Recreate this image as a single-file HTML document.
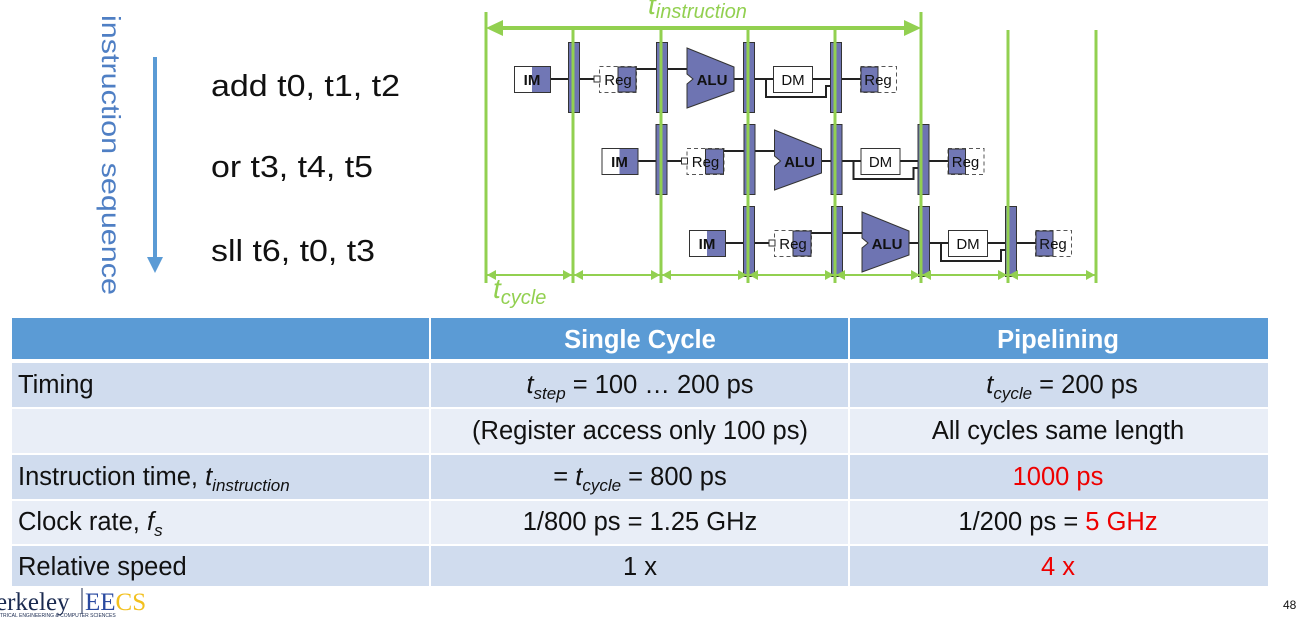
<!DOCTYPE html>
<html><head><meta charset="utf-8"><style>
body{margin:0;width:1298px;height:618px;background:#fff;overflow:hidden;font-family:"Liberation Sans",sans-serif;}
svg{position:absolute;left:0;top:0}
</style></head><body>
<svg width="1298" height="618" viewBox="0 0 1298 618" font-family="Liberation Sans, sans-serif">
<defs>
<g id="row">
  <line x1="550" y1="79" x2="600" y2="79" stroke="#222" stroke-width="2"/>
  <line x1="636" y1="69" x2="690" y2="69" stroke="#222" stroke-width="2"/>
  <line x1="733" y1="79" x2="773" y2="79" stroke="#222" stroke-width="2"/>
  <line x1="812" y1="79" x2="862" y2="79" stroke="#222" stroke-width="2"/>
  <polyline points="766,79 766,97 826,97 826,86 836,86" fill="none" stroke="#222" stroke-width="2"/>
  <rect x="514.5" y="66.5" width="36" height="26" fill="#fff" stroke="#333"/>
  <rect x="532" y="67" width="18" height="25" fill="#7177b5"/>
  <text x="532" y="85" font-size="15" font-weight="bold" text-anchor="middle" fill="#111">IM</text>
  <rect x="599.5" y="66.5" width="37" height="26" fill="#fff" stroke="#555" stroke-dasharray="4,3"/>
  <rect x="618" y="67" width="18" height="25" fill="#7177b5" stroke="#333"/>
  <rect x="594" y="76" width="6" height="6" fill="#fff" stroke="#333"/>
  <text x="618" y="85" font-size="15" text-anchor="middle" fill="#111">Reg</text>
  <polygon points="687,48 734,67 734,91 687,108 687,84 693,79 687,74" fill="#6e74b2" stroke="#333"/>
  <text x="712" y="85" font-size="15" font-weight="bold" text-anchor="middle" fill="#111">ALU</text>
  <rect x="773.5" y="66.5" width="39" height="26" fill="#fff" stroke="#333"/>
  <text x="793" y="85" font-size="15" text-anchor="middle" fill="#111">DM</text>
  <rect x="860.5" y="66.5" width="36" height="26" fill="#fff" stroke="#555" stroke-dasharray="4,3"/>
  <rect x="861" y="67" width="17" height="25" fill="#7177b5" stroke="#333"/>
  <text x="878" y="85" font-size="15" text-anchor="middle" fill="#111">Reg</text>
  <rect x="568.5" y="42.5" width="11" height="70" fill="#6e74b2" stroke="#333"/>
  <rect x="656.5" y="42.5" width="11" height="70" fill="#6e74b2" stroke="#333"/>
  <rect x="743.5" y="42.5" width="11" height="70" fill="#6e74b2" stroke="#333"/>
  <rect x="830.5" y="42.5" width="11" height="70" fill="#6e74b2" stroke="#333"/>
</g>
</defs>
<use href="#row"/>
<use href="#row" transform="translate(87.5,82)"/>
<use href="#row" transform="translate(175,164)"/>
<g stroke="#92d050" stroke-width="3">
<line x1="486" y1="12" x2="486" y2="283"/>
<line x1="573" y1="30" x2="573" y2="283"/>
<line x1="661" y1="30" x2="661" y2="283"/>
<line x1="748" y1="30" x2="748" y2="283"/>
<line x1="835" y1="30" x2="835" y2="283"/>
<line x1="921" y1="12" x2="921" y2="283"/>
<line x1="1008" y1="30" x2="1008" y2="283"/>
<line x1="1096" y1="30" x2="1096" y2="283"/>
<line x1="496" y1="28" x2="911" y2="28" stroke-width="4"/>
</g>
<polygon points="486,28 503,20 503,36" fill="#92d050"/>
<polygon points="921,28 904,20 904,36" fill="#92d050"/>
<line x1="486" y1="275" x2="1096" y2="275" stroke="#92d050" stroke-width="2"/>
<g fill="#92d050">
<polygon points="487,275 496,270 496,280"/><polygon points="572,275 563,270 563,280"/>
<polygon points="574,275 583,270 583,280"/><polygon points="660,275 651,270 651,280"/>
<polygon points="662,275 671,270 671,280"/><polygon points="747,275 738,270 738,280"/>
<polygon points="749,275 758,270 758,280"/><polygon points="834,275 825,270 825,280"/>
<polygon points="836,275 845,270 845,280"/><polygon points="920,275 911,270 911,280"/>
<polygon points="922,275 931,270 931,280"/><polygon points="1007,275 998,270 998,280"/>
<polygon points="1009,275 1018,270 1018,280"/><polygon points="1095,275 1086,270 1086,280"/>
</g>
<text x="648" y="14" font-size="28" font-style="italic" fill="#92d050">t<tspan font-size="20" dy="4">instruction</tspan></text>
<text x="493" y="298" font-size="28" font-style="italic" fill="#92d050">t<tspan font-size="20" dy="6">cycle</tspan></text>
<line x1="155" y1="57" x2="155" y2="260" stroke="#5b9bd5" stroke-width="4"/>
<polygon points="147,257 163,257 155,273" fill="#5b9bd5"/>
<text transform="translate(102,15) rotate(90)" font-size="26" fill="#4f7fc4" textLength="280" lengthAdjust="spacingAndGlyphs">instruction sequence</text>
<text x="211" y="96" font-size="31" fill="#111" textLength="189" lengthAdjust="spacingAndGlyphs">add t0, t1, t2</text>
<text x="211" y="177" font-size="31" fill="#111" textLength="162" lengthAdjust="spacingAndGlyphs">or t3, t4, t5</text>
<text x="211" y="261" font-size="31" fill="#111" textLength="164" lengthAdjust="spacingAndGlyphs">sll t6, t0, t3</text>
<rect x="12" y="318" width="1256" height="41" fill="#5b9bd5"/>
<rect x="12" y="363" width="1256" height="44" fill="#d0dcee"/>
<rect x="12" y="409" width="1256" height="44" fill="#e9eef7"/>
<rect x="12" y="455" width="1256" height="44" fill="#d0dcee"/>
<rect x="12" y="501" width="1256" height="43" fill="#e9eef7"/>
<rect x="12" y="546" width="1256" height="40" fill="#d0dcee"/>
<rect x="429" y="318" width="2" height="268" fill="#fff"/>
<rect x="848" y="318" width="2" height="268" fill="#fff"/>
<g font-size="25.5" fill="#111">
<text x="640" y="348" font-weight="bold" fill="#fff" text-anchor="middle">Single Cycle</text>
<text x="1058" y="348" font-weight="bold" fill="#fff" text-anchor="middle">Pipelining</text>
<text x="18" y="393">Timing</text>
<text x="640" y="393" text-anchor="middle"><tspan font-style="italic">t</tspan><tspan font-size="17" font-style="italic" dy="6">step</tspan><tspan dy="-6"> = 100 … 200 ps</tspan></text>
<text x="1062" y="393" text-anchor="middle"><tspan font-style="italic">t</tspan><tspan font-size="17" font-style="italic" dy="6">cycle</tspan><tspan dy="-6"> = 200 ps</tspan></text>
<text x="640" y="439" text-anchor="middle">(Register access only 100 ps)</text>
<text x="1058" y="439" text-anchor="middle">All cycles same length</text>
<text x="18" y="485">Instruction time, <tspan font-style="italic">t</tspan><tspan font-size="17" font-style="italic" dy="6">instruction</tspan></text>
<text x="640" y="485" text-anchor="middle">= <tspan font-style="italic">t</tspan><tspan font-size="17" font-style="italic" dy="6">cycle</tspan><tspan dy="-6"> = 800 ps</tspan></text>
<text x="1058" y="485" text-anchor="middle" fill="#e00">1000 ps</text>
<text x="18" y="530">Clock rate, <tspan font-style="italic">f</tspan><tspan font-size="17" font-style="italic" dy="6">s</tspan></text>
<text x="640" y="530" text-anchor="middle">1/800 ps = 1.25 GHz</text>
<text x="1058" y="530" text-anchor="middle">1/200 ps = <tspan fill="#e00">5 GHz</tspan></text>
<text x="18" y="575">Relative speed</text>
<text x="640" y="575" text-anchor="middle">1 x</text>
<text x="1058" y="575" text-anchor="middle" fill="#e00">4 x</text>
</g>
<text x="-4" y="610" font-family="Liberation Serif, serif" font-size="25" fill="#1a2a50">erkeley</text>
<line x1="82" y1="588" x2="82" y2="614" stroke="#1a2a50"/>
<text x="85" y="610" font-family="Liberation Serif, serif" font-size="25" fill="#2a4aa0">EE<tspan fill="#f2c01e">CS</tspan></text>
<text x="0" y="617" font-size="5" fill="#1a2a50">TRICAL ENGINEERING &amp; COMPUTER SCIENCES</text>
<text x="1283" y="609" font-size="12" fill="#111">48</text>
</svg>
</body></html>
